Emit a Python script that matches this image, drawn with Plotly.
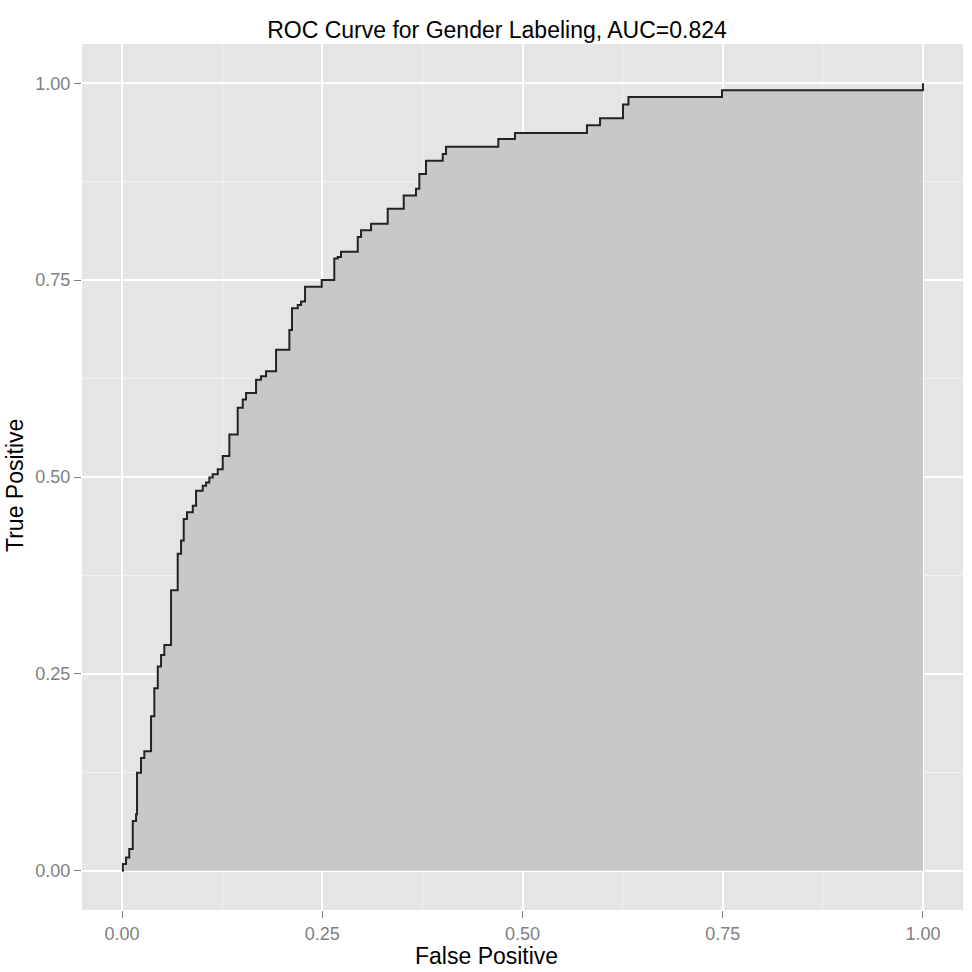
import plotly.graph_objects as go

# ROC curve points (false positive rate, true positive rate)
fpr = [0.0, 0.001, 0.005, 0.009, 0.0134, 0.0175, 0.0187, 0.0237, 0.0278, 0.0362,
       0.0403, 0.0446, 0.0487, 0.0528, 0.0612, 0.0695, 0.0737, 0.0770, 0.0811,
       0.0883, 0.0924, 0.1007, 0.1049, 0.1090, 0.1132, 0.1195, 0.1257, 0.1340,
       0.1444, 0.1507, 0.1548, 0.1673, 0.1735, 0.1798, 0.1923, 0.2089, 0.2122,
       0.2194, 0.2235, 0.2285, 0.2493, 0.2650, 0.2693, 0.2734, 0.2943, 0.2984,
       0.3109, 0.3317, 0.3517, 0.3670, 0.3712, 0.3795, 0.4004, 0.4045, 0.4698,
       0.4906, 0.5805, 0.5968, 0.6255, 0.6323, 0.7491, 1.0]
tpr = [0.0, 0.0085, 0.0168, 0.0274, 0.0632, 0.0717, 0.1243, 0.1432, 0.1517, 0.1960,
       0.2317, 0.2592, 0.2740, 0.2866, 0.3561, 0.4024, 0.4193, 0.4467, 0.4551,
       0.4636, 0.4826, 0.4889, 0.4930, 0.4994, 0.5035, 0.5099, 0.5268, 0.5541,
       0.5879, 0.5984, 0.6068, 0.6236, 0.6279, 0.6343, 0.6616, 0.6868, 0.7143,
       0.7185, 0.7228, 0.7417, 0.7501, 0.7775, 0.7796, 0.7860, 0.8049, 0.8133,
       0.8217, 0.8407, 0.8575, 0.8660, 0.8850, 0.9018, 0.9103, 0.9195, 0.9292,
       0.9368, 0.9469, 0.9558, 0.9731, 0.9826, 0.9912, 1.0]

tick_vals = [0.0, 0.25, 0.5, 0.75, 1.0]
tick_text = ["0.00", "0.25", "0.50", "0.75", "1.00"]

title_text = "ROC Curve for Gender Labeling, AUC=0.824"
x_title = "False Positive"
y_title = "True Positive"

FONT = "Liberation Sans, Arial, sans-serif"

fig = go.Figure()
fig.add_trace(go.Scatter(
    x=fpr, y=tpr, mode="lines", line_shape="hv",
    line=dict(color="rgb(35,35,35)", width=2),
    fill="tozeroy", fillcolor="rgb(200,200,200)",
    showlegend=False, hoverinfo="skip",
))

axis_common = dict(
    range=[-0.05, 1.05], tickvals=tick_vals, ticktext=tick_text,
    showgrid=True, gridcolor="white", gridwidth=2,
    zeroline=False, showline=False,
    ticks="outside", ticklen=7, tickwidth=1, tickcolor="#7F7F7F",
    tickfont=dict(family=FONT, size=18, color="#7F7F7F"),
    minor=dict(tickvals=[0.125, 0.375, 0.625, 0.875], showgrid=True,
               gridcolor="#F2F2F2", gridwidth=1, ticks=""),
    automargin=False, fixedrange=True,
)

fig.update_layout(
    width=972, height=972,
    margin=dict(l=82, r=9, t=44, b=62),
    paper_bgcolor="white", plot_bgcolor="#E5E5E5",
    xaxis=axis_common, yaxis=axis_common,
    font=dict(family=FONT, color="black"),
    title=dict(text=title_text, x=497 / 972, xref="container", xanchor="center",
               y=1 - 30 / 972, yref="container", yanchor="middle",
               font=dict(family=FONT, size=23, color="black")),
    annotations=[
        dict(text=x_title, xref="paper", yref="paper",
             x=(486 - 82) / (963 - 82), y=(910 - 956) / (910 - 44),
             xanchor="center", yanchor="middle", showarrow=False,
             font=dict(family=FONT, size=23, color="black")),
        dict(text=y_title, xref="paper", yref="paper", textangle=-90,
             x=(15 - 82) / (963 - 82), y=(910 - 486) / (910 - 44),
             xanchor="center", yanchor="middle", showarrow=False,
             font=dict(family=FONT, size=23, color="black")),
    ],
)

fig.write_html("out.html",
               config={"displayModeBar": False},
               post_script="document.body.style.margin='0';document.body.style.overflow='hidden';")
